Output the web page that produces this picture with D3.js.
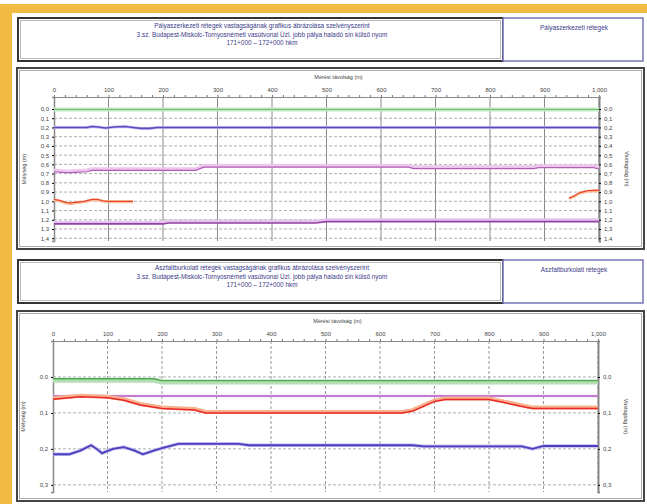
<!DOCTYPE html>
<html><head><meta charset="utf-8">
<script src="https://cdn.jsdelivr.net/npm/d3@7"></script>
<style>body{margin:0;background:#fff}svg{display:block;font-family:"Liberation Sans",Arial,sans-serif}</style>
</head><body><svg id="c" width="647" height="504"></svg>
<script>
// ---------- data ----------
const xTicks = [0,100,200,300,400,500,600,700,800,900,1000];
const xMinor = d3.range(0, 1001, 20);
const topYTicks = [0,0.1,0.2,0.3,0.4,0.5,0.6,0.7,0.8,0.9,1.0,1.1,1.2,1.3,1.4];
const botYTicks = [0,0.1,0.2,0.3];

const title1 = ["Pályaszerkezeti rétegek vastagságának grafikus ábrázolása szelvényszerint",
  "3.sz. Budapest-Miskolc-Tornyosnémeti vasútvonal Üzl. jobb pálya haladó sín külső nyom",
  "171+000 – 172+000 hkm"];
const side1 = "Pályaszerkezeti rétegek";
const title2 = ["Aszfaltburkolati rétegek vastagságának grafikus ábrázolása szelvényszerint",
  "3.sz. Budapest-Miskolc-Tornyosnémeti vasútvonal Üzl. jobb pálya haladó sín külső nyom",
  "171+000 – 172+000 hkm"];
const side2 = "Aszfaltburkolati rétegek";
const xTitle = "Mérési távolság (m)";
const yTitleL = "Mélység (m)";
const yTitleR = "Vastagság (m)";

// top chart series (depth, m)
const topGreenX = [0, 1000];
const topGreenY = [0.005, 0.005];
const topBlueX = [0,60,70,80,95,110,130,145,160,175,190,1000];
const topBlueY = [0.2,0.2,0.19,0.195,0.205,0.195,0.19,0.2,0.21,0.21,0.2,0.2];
const topPinkX = [0,20,30,60,70,260,275,480,650,660,880,890,990,1000];
const topPinkY = [0.68,0.69,0.69,0.68,0.665,0.665,0.63,0.63,0.63,0.645,0.645,0.635,0.635,0.65];
const topRedAX = [0,10,20,30,40,55,70,80,90,100,145];
const topRedAY = [0.98,0.99,1.01,1.02,1.01,1.0,0.98,0.98,0.995,1.0,1.0];
const topRedBX = [945,955,965,980,1000];
const topRedBY = [0.965,0.94,0.905,0.885,0.88];
const topPurpleX = [0,200,210,480,500,1000];
const topPurpleY = [1.245,1.245,1.235,1.235,1.22,1.22];

// bottom chart series (depth, m)
const botGreenX = [0,185,200,1000];
const botGreenY = [0.005,0.005,0.01,0.01];
const botPurpleX = [0,1000];
const botPurpleY = [0.053,0.053];
const botRedX = [0,50,100,130,160,200,260,280,640,660,700,720,800,830,870,880,1000];
const botRedY = [0.062,0.055,0.058,0.065,0.078,0.088,0.092,0.1,0.1,0.095,0.068,0.063,0.063,0.072,0.085,0.088,0.088];
const botBlueX = [0,30,50,70,80,90,110,130,150,165,185,200,230,340,360,660,680,860,880,900,1000];
const botBlueY = [0.215,0.215,0.205,0.19,0.2,0.212,0.2,0.195,0.205,0.215,0.205,0.198,0.186,0.186,0.19,0.19,0.193,0.193,0.2,0.192,0.192];

// ---------- drawing ----------
const svg = d3.select("#c");
svg.append("rect").attr("x",0).attr("y",0).attr("width",647).attr("height",504).attr("fill","#fff");
svg.append("rect").attr("x",0).attr("y",4).attr("width",647).attr("height",9).attr("fill","#f2bc44");
svg.append("rect").attr("x",0).attr("y",4).attr("width",12).attr("height",500).attr("fill","#f2bc44");

const fmt = d => d3.format(".1f")(d).replace(".", ",");
const zip = (xs, ys) => xs.map((x,i)=>[x, ys[i]]);

function header(y0, h, lines, side){
  svg.append("rect").attr("x",18).attr("y",y0).attr("width",485).attr("height",h)
    .attr("fill","#fff").attr("stroke","#333").attr("stroke-width",2);
  svg.append("rect").attr("x",20.5).attr("y",y0+2.5).attr("width",480).attr("height",h-5)
    .attr("fill","none").attr("stroke","#bbb").attr("stroke-width",1);
  svg.append("rect").attr("x",503).attr("y",y0).attr("width",140).attr("height",h)
    .attr("fill","#fff").attr("stroke","#7474bb").attr("stroke-width",1.5);
  lines.forEach((t,i)=>{
    svg.append("text").attr("x",262).attr("y",y0+10+i*8.5).attr("text-anchor","middle")
      .attr("font-size",6.4).attr("fill","#3a3a88").text(t);
  });
  svg.append("text").attr("x",574).attr("y",y0+12).attr("text-anchor","middle")
    .attr("font-size",6.4).attr("fill","#3a3a88").text(side);
}
header(18, 43, title1, side1);
header(260, 43, title2, side2);

function panel(y0, h){
  svg.append("rect").attr("x",17).attr("y",y0).attr("width",627).attr("height",h)
    .attr("fill","#fff").attr("stroke","#444").attr("stroke-width",2);
  svg.append("rect").attr("x",19.5).attr("y",y0+2.5).attr("width",622).attr("height",h-5)
    .attr("fill","none").attr("stroke","#aaa").attr("stroke-width",1);
}

function chart(cfg){
  panel(cfg.py, cfg.ph);
  const x = d3.scaleLinear().domain([0,1000]).range([cfg.x0, cfg.x1]);
  const y = d3.scaleLinear().domain(cfg.yDom).range([cfg.y0, cfg.y1]);
  const g = svg.append("g");
  g.append("g").selectAll("line").data(xTicks.slice(1)).join("line")
    .attr("x1",d=>x(d)).attr("x2",d=>x(d)).attr("y1",cfg.y0).attr("y2",cfg.y1)
    .attr("stroke", cfg.vSolid ? "#8a8a8a" : "#999").attr("stroke-width",1)
    .attr("stroke-dasharray", cfg.vSolid ? null : "3,2");
  g.append("g").selectAll("line").data(cfg.yTicks).join("line")
    .attr("x1",cfg.x0).attr("x2",cfg.x1).attr("y1",d=>y(d)).attr("y2",d=>y(d))
    .attr("stroke","#9a9a9a").attr("stroke-width",0.8).attr("stroke-dasharray","3,2");
  const ax = g.append("g").attr("transform",`translate(0,${cfg.y0})`)
    .call(d3.axisTop(x).tickValues(xMinor).tickSize(2).tickFormat(""));
  ax.select(".domain").attr("stroke","#888");
  ax.selectAll(".tick line").attr("stroke","#777");
  const axl = g.append("g").attr("transform",`translate(0,${cfg.y0})`)
    .call(d3.axisTop(x).tickValues(xTicks).tickSize(0).tickPadding(5));
  axl.select(".domain").remove();
  axl.selectAll("text").attr("font-size",6).attr("fill","#444").attr("font-family","Liberation Sans, Arial");
  const ay = g.append("g").attr("transform",`translate(${cfg.x0},0)`)
    .call(d3.axisLeft(y).tickValues(cfg.yTicks).tickSize(2).tickPadding(3).tickFormat(fmt));
  ay.select(".domain").attr("stroke","#888").attr("stroke-width",1.5);
  ay.selectAll("text").attr("font-size",6).attr("fill","#444").attr("font-family","Liberation Sans, Arial");
  const ar = g.append("g").attr("transform",`translate(${cfg.x1},0)`)
    .call(d3.axisRight(y).tickValues(cfg.yTicks).tickSize(2).tickPadding(3).tickFormat(fmt));
  ar.select(".domain").attr("stroke","#888").attr("stroke-width",2);
  ar.selectAll("text").attr("font-size",6).attr("fill","#444").attr("font-family","Liberation Sans, Arial");
  g.append("text").attr("x",(cfg.x0+cfg.x1)/2+12).attr("y",cfg.y0-18).attr("text-anchor","middle")
    .attr("font-size",5.5).attr("fill","#444").text(xTitle);
  const ym = (cfg.y0+cfg.y1)/2;
  g.append("text").attr("transform",`translate(${cfg.x0-28},${ym}) rotate(-90)`).attr("text-anchor","middle")
    .attr("font-size",5.5).attr("fill","#444").text(yTitleL);
  g.append("text").attr("transform",`translate(${cfg.x1+26},${ym}) rotate(90)`).attr("text-anchor","middle")
    .attr("font-size",5.5).attr("fill","#444").text(yTitleR);
  return {x, y, g};
}

function series(c, xs, ys, color, width, halo, haloW, haloDy){
  const line = d3.line().x(d=>c.x(d[0])).y(d=>c.y(d[1]));
  const pts = zip(xs, ys);
  if (halo) c.g.append("path").attr("d",line(pts)).attr("fill","none").attr("stroke",halo)
     .attr("stroke-width",haloW).attr("transform",`translate(0,${haloDy||0})`);
  c.g.append("path").attr("d",line(pts)).attr("fill","none").attr("stroke",color).attr("stroke-width",width);
}

const chartTop = chart({py:68, ph:181, x0:54, x1:599, y0:97, y1:241, yDom:[-0.13,1.43], yTicks:topYTicks, vSolid:true});
series(chartTop, topGreenX, topGreenY, "#6fbf6f", 1, "#c4e8c4", 4, 0);
series(chartTop, topBlueX, topBlueY, "#5b4cc4", 1.6, "#c8c0ee", 3, 0);
series(chartTop, topPinkX, topPinkY, "#b15fb5", 1.2, "#ecc6ec", 3.5, -1.5);
series(chartTop, topRedAX, topRedAY, "#e8482a", 1.3, "#f8c0a0", 3, 0.5);
series(chartTop, topRedBX, topRedBY, "#e8482a", 1.3, "#f8c0a0", 3, 0.5);
series(chartTop, topPurpleX, topPurpleY, "#9242a4", 1.6, "#e4c4ec", 3.5, -1.5);

const chartBot = chart({py:311, ph:190, x0:53, x1:598, y0:341, y1:492, yDom:[-0.1,0.32], yTicks:botYTicks, vSolid:false});
series(chartBot, botGreenX, botGreenY, "#4fa84f", 1.3, "#b4deb4", 5, 1.5);
series(chartBot, botPurpleX, botPurpleY, "#b563c6", 1.5, "#e6c6ee", 2.5, 0);
series(chartBot, botRedX, botRedY, "#e82a2a", 1.5, "#f8b08c", 4, -1);
series(chartBot, botBlueX, botBlueY, "#4b3fbf", 1.8, "#c4bcee", 3.5, 0);
</script></body></html>
